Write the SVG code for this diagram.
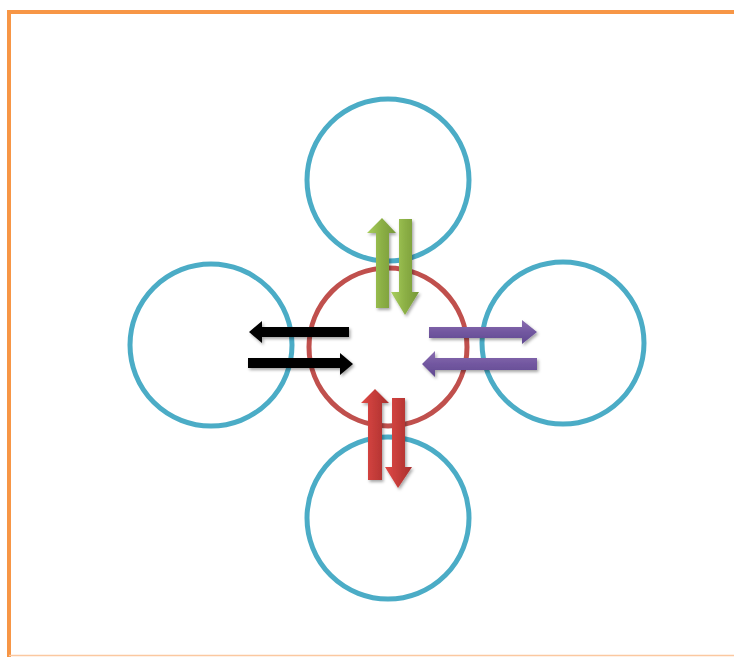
<svg xmlns="http://www.w3.org/2000/svg" width="734" height="657" viewBox="0 0 734 657">
<style>
.ring{fill:none;stroke:#4bacc6;stroke-width:5}
.core{fill:none;stroke:#c0504d;stroke-width:5}
</style>
<defs>
<filter id="sh" x="-30%" y="-30%" width="160%" height="160%">
<feDropShadow dx="1.5" dy="2" stdDeviation="1.5" flood-color="#000" flood-opacity="0.35"/>
</filter>
<linearGradient id="gV" x1="0" y1="0" x2="1" y2="0">
<stop offset="0" stop-color="#a9cf5e"/><stop offset="0.5" stop-color="#8cb045"/><stop offset="1" stop-color="#77983a"/>
</linearGradient>
<linearGradient id="rV" x1="0" y1="0" x2="1" y2="0">
<stop offset="0" stop-color="#e04a46"/><stop offset="0.5" stop-color="#c43c39"/><stop offset="1" stop-color="#a9302e"/>
</linearGradient>
<linearGradient id="pH" x1="0" y1="0" x2="0" y2="1">
<stop offset="0" stop-color="#8a6db0"/><stop offset="0.5" stop-color="#7257a0"/><stop offset="1" stop-color="#604890"/>
</linearGradient>
</defs>
<g id="frame">
<path d="M9 658 V12 H740" fill="none" stroke="#f79646" stroke-width="4"/>
<line x1="9" y1="655.5" x2="734" y2="655.5" stroke="#fbc8a0" stroke-width="1.5"/>
</g>
<g id="node-top"><circle class="ring" cx="388" cy="180" r="81"/></g>
<g id="node-left"><circle class="ring" cx="211" cy="345" r="81"/></g>
<g id="node-right"><circle class="ring" cx="563" cy="343" r="81"/></g>
<g id="node-bottom"><circle class="ring" cx="388" cy="518" r="81"/></g>
<g id="node-center"><circle class="core" cx="388" cy="347" r="79"/></g>
<g id="connectors" filter="url(#sh)">
<polygon fill="url(#gV)" points="382,218 396,233 389,233 389,308 376,308 376,233 367,233"/>
<polygon fill="url(#gV)" points="399,219 412,219 412,292 419,292 405,315 391,292 399,292"/>
<polygon fill="#000" points="249,332 262,321 262,327 349,327 349,337 262,337 262,343"/>
<polygon fill="#000" points="248,358 340,358 340,353 353,364 340,375 340,368 248,368"/>
<polygon fill="url(#pH)" points="429,327 522,327 522,320 537,332 522,344 522,338 429,338"/>
<polygon fill="url(#pH)" points="422,364 435,351 435,358 537,358 537,370 435,370 435,377"/>
<polygon fill="url(#rV)" points="375,389 389,403 382,403 382,480 368,480 368,403 361,403"/>
<polygon fill="url(#rV)" points="392,398 405,398 405,467 412,467 398,488 385,467 392,467"/>
</g>
</svg>
